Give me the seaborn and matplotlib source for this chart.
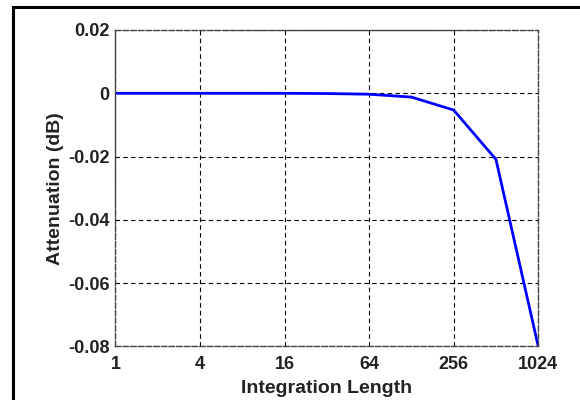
import matplotlib
matplotlib.use("Agg")
import matplotlib.pyplot as plt
import seaborn as sns
import pandas as pd
from matplotlib.patches import Rectangle

integration_length = [1, 2, 4, 8, 16, 32, 64, 128, 256, 512, 1024]
attenuation_db = [0.0, 0.0, 0.0, 0.0, -0.00001, -0.00008, -0.0003, -0.0012, -0.0053, -0.0209, -0.08]
x_ticks = [1, 4, 16, 64, 256, 1024]
x_tick_labels = ["1", "4", "16", "64", "256", "1024"]
y_ticks = [-0.08, -0.06, -0.04, -0.02, 0, 0.02]
y_tick_labels = ["-0.08", "-0.06", "-0.04", "-0.02", "0", "0.02"]

df = pd.DataFrame({"Integration Length": integration_length, "Attenuation (dB)": attenuation_db})

sns.set_style("white")
plt.rcParams["font.family"] = ["Liberation Sans", "DejaVu Sans"]

fig = plt.figure(figsize=(5.8, 4.0), dpi=100)
ax = fig.add_axes([0.199, 0.134, 0.729, 0.791])

sns.lineplot(data=df, x="Integration Length", y="Attenuation (dB)", ax=ax,
             color="#0000ff", linewidth=2.0)

ax.set_xscale("log", base=2)
ax.set_xlim(1, 1024)
ax.set_ylim(-0.08, 0.02)
ax.set_xticks(x_ticks)
ax.set_xticklabels(x_tick_labels)
ax.set_yticks(y_ticks)
ax.set_yticklabels(y_tick_labels)
ax.minorticks_off()

ax.grid(True, color="black", linestyle=(0, (4, 3)), linewidth=0.8)
for s in ax.spines.values():
    s.set_visible(True)
    s.set_color("#444444")
    s.set_linewidth(1.0)
    s.set_linestyle((0, (4, 1.5)))

ax.tick_params(axis="both", direction="in", length=3, width=0.6, color="#444444",
               labelsize=13)
ax.tick_params(axis="x", pad=7)
ax.tick_params(axis="y", pad=4)
for lab in ax.get_xticklabels() + ax.get_yticklabels():
    lab.set_fontweight("bold")
    lab.set_color("#222222")

ax.set_xlabel("Integration Length", fontsize=14, fontweight="bold", color="#222222", labelpad=5)
ax.set_ylabel("Attenuation (dB)", fontsize=14, fontweight="bold", color="#222222", labelpad=3)

border = Rectangle((13 / 580, -0.05), 1.1, 1.05 - 7 / 400, transform=fig.transFigure,
                   fill=False, edgecolor="black", linewidth=2.2, clip_on=False)
fig.patches.append(border)

fig.savefig("out.png", dpi=100)
